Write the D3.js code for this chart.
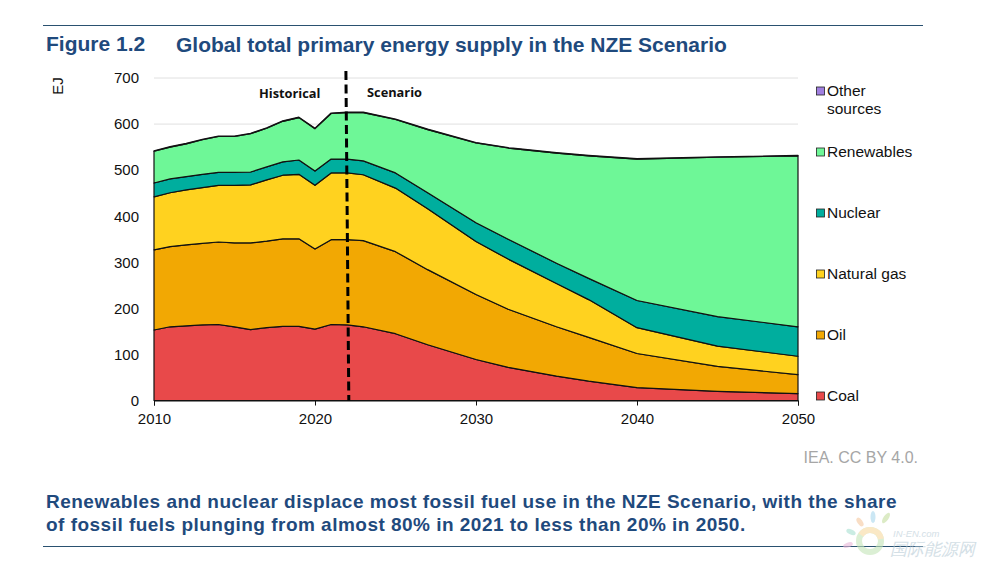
<!DOCTYPE html>
<html>
<head>
<meta charset="utf-8">
<script src="https://cdn.jsdelivr.net/npm/d3@7"></script>
<style>
  html, body { margin: 0; padding: 0; background: #fff; }
  svg { display: block; }
  text { font-family: "Liberation Sans", Arial, sans-serif; }
  .axis text { font-size: 15px; fill: #111; }
  .heading { font-size: 21px; font-weight: 700; fill: #1f4a7d; }
  .caption { font-size: 19px; font-weight: 700; fill: #1f4a7d; letter-spacing: 0.48px; }
  .period { font-family: "Open Sans", sans-serif; font-size: 12.8px; font-weight: 700; fill: #111; }
</style>
</head>
<body>
<svg id="chart" width="981" height="562"></svg>
<script>
const years = [2010, 2011, 2012, 2013, 2014, 2015, 2016, 2017, 2018, 2019, 2020, 2021, 2022, 2023, 2025, 2027, 2030, 2032, 2035, 2037, 2040, 2045, 2050];
const coal = [153, 160, 162, 164, 165, 160, 154, 158, 161, 161, 155, 165, 164, 160, 145, 121, 89, 72, 53, 42, 28, 20, 15];
const oil = [174, 174, 176, 177, 179, 182, 188, 188, 190, 190, 174, 184, 185, 187, 178, 163, 141, 126, 107, 95, 74, 54, 41];
const gas = [115, 117, 119, 121, 123, 125, 126, 133, 138, 140, 138, 145, 145, 143, 138, 132, 115, 109, 94, 82, 56, 44, 40];
const nuclear = [30, 30, 29, 29, 28, 28, 28, 28, 29, 31, 31, 30, 30, 30, 33, 35, 41, 43, 44, 46, 59, 64, 64];
const renewables = [69, 69, 71, 75, 78, 78, 83, 84, 88, 92, 92, 99, 101, 105, 116, 137, 173, 198, 239, 266, 307, 346, 371];
const otherSources = [1, 1, 1, 1, 1, 1, 1, 1, 1, 1, 1, 1, 1, 1, 1, 1, 1, 1, 1, 1, 1, 1, 1];

const seriesKeys = ['Coal', 'Oil', 'Natural gas', 'Nuclear', 'Renewables', 'Other sources'];
const seriesValues = [coal, oil, gas, nuclear, renewables, otherSources];
const seriesColors = ['#e8494a', '#f2a803', '#ffd21f', '#00ae9e', '#6ef797', '#a07fe0'];
const legendRows = [
  { key: 'Other sources', lines: ['Other', 'sources'], y: 91 },
  { key: 'Renewables', lines: ['Renewables'], y: 152 },
  { key: 'Nuclear', lines: ['Nuclear'], y: 213 },
  { key: 'Natural gas', lines: ['Natural gas'], y: 274 },
  { key: 'Oil', lines: ['Oil'], y: 335 },
  { key: 'Coal', lines: ['Coal'], y: 396 }
];
const yTicks = [0, 100, 200, 300, 400, 500, 600, 700];
const xTicks = [2010, 2020, 2030, 2040, 2050];
const dividerYears = [2021.92, 2022.1];

const svg = d3.select('#chart');
const x = d3.scaleLinear().domain([2010, 2050]).range([154, 798]);
const y = d3.scaleLinear().domain([0, 700]).range([400.5, 78]);

const table = years.map((year, i) => {
  const row = { year };
  seriesKeys.forEach((key, k) => { row[key] = seriesValues[k][i]; });
  return row;
});
const stacked = d3.stack().keys(seriesKeys)(table);
const color = d3.scaleOrdinal().domain(seriesKeys).range(seriesColors);

// rules and headings
svg.append('line').attr('x1', 43).attr('x2', 923).attr('y1', 25.5).attr('y2', 25.5)
  .attr('stroke', '#2a5170').attr('stroke-width', 1);
svg.append('line').attr('x1', 43).attr('x2', 923).attr('y1', 546.5).attr('y2', 546.5)
  .attr('stroke', '#2a5170').attr('stroke-width', 1);
svg.append('text').attr('class', 'heading').attr('x', 46).attr('y', 51).text('Figure 1.2');
svg.append('text').attr('class', 'heading').attr('x', 176).attr('y', 52)
  .text('Global total primary energy supply in the NZE Scenario');

// gridlines
svg.append('g').selectAll('line')
  .data(yTicks.filter(d => d > 0))
  .join('line')
  .attr('x1', x(2010)).attr('x2', x(2050))
  .attr('y1', d => y(d)).attr('y2', d => y(d))
  .attr('stroke', '#e0e0e0').attr('stroke-width', 1);

// stacked areas
const area = d3.area()
  .x(d => x(d.data.year))
  .y0(d => y(d[0]))
  .y1(d => y(d[1]));
svg.append('g').selectAll('path')
  .data(stacked)
  .join('path')
  .attr('d', area)
  .attr('fill', d => color(d.key))
  .attr('stroke', '#111')
  .attr('stroke-width', 1.2)
  .attr('stroke-linejoin', 'round');

// axes
const xAxis = svg.append('g').attr('class', 'axis').attr('transform', `translate(0,${y(0)})`)
  .call(d3.axisBottom(x).tickValues(xTicks).tickFormat(d3.format('d')).tickSize(5).tickPadding(8));
xAxis.select('.domain').attr('stroke', '#111');
xAxis.selectAll('line').attr('stroke', '#111');

const yAxis = svg.append('g').attr('class', 'axis').attr('transform', 'translate(139,0)')
  .call(d3.axisLeft(y).tickValues(yTicks).tickSize(0).tickPadding(0));
yAxis.select('.domain').remove();

svg.append('text').attr('transform', 'translate(63,86) rotate(-90)')
  .attr('text-anchor', 'middle').attr('font-size', 15).attr('fill', '#111').text('EJ');

// historical / scenario divider
svg.append('line')
  .attr('x1', x(dividerYears[0])).attr('x2', x(dividerYears[1]))
  .attr('y1', 71).attr('y2', y(0))
  .attr('stroke', '#000').attr('stroke-width', 3).attr('stroke-dasharray', '9 4.5');
svg.append('text').attr('class', 'period').attr('x', 259).attr('y', 98).text('Historical');
svg.append('text').attr('class', 'period').attr('x', 367).attr('y', 97).text('Scenario');

// legend
const legend = svg.append('g').selectAll('g')
  .data(legendRows)
  .join('g')
  .attr('transform', d => `translate(816,${d.y})`);
legend.append('rect')
  .attr('x', 0.5).attr('y', -4).attr('width', 8).attr('height', 8)
  .attr('fill', d => color(d.key)).attr('stroke', '#222').attr('stroke-width', 0.8);
legend.append('text')
  .attr('font-size', 15.5).attr('fill', '#111')
  .selectAll('tspan')
  .data(d => d.lines)
  .join('tspan')
  .attr('x', 11).attr('y', (d, i) => 5 + i * 18)
  .text(d => d);

svg.append('text').attr('x', 918).attr('y', 463).attr('text-anchor', 'end')
  .attr('font-size', 16).attr('fill', '#a6a6a6').text('IEA. CC BY 4.0.');

svg.append('text').attr('class', 'caption').attr('x', 46).attr('y', 508)
  .text('Renewables and nuclear displace most fossil fuel use in the NZE Scenario, with the share');
svg.append('text').attr('class', 'caption').attr('x', 46).attr('y', 531)
  .text('of fossil fuels plunging from almost 80% in 2021 to less than 20% in 2050.');

// watermark
const mark = svg.append('g').attr('opacity', 0.6);
function petal(cx, cy, rx, ry, angle, fill) {
  mark.append('ellipse').attr('cx', cx).attr('cy', cy).attr('rx', rx).attr('ry', ry)
    .attr('transform', `rotate(${angle} ${cx} ${cy})`).attr('fill', fill);
}
petal(860, 522, 2.5, 5, -35, '#f6c9a0');
petal(873, 517, 2.5, 6, 0, '#a9d8ee');
petal(886, 518, 2.5, 6, 35, '#c5dfa0');
petal(851, 532, 2.5, 5, -65, '#a8e0d2');
petal(848, 545, 2.5, 5, 70, '#e8b7d8');
mark.append('circle').attr('cx', 870).attr('cy', 541).attr('r', 11)
  .attr('fill', 'none').attr('stroke', '#c4e6b8').attr('stroke-width', 6);
mark.append('path').attr('d', 'M861 535 A11 11 0 0 1 881 539')
  .attr('fill', 'none').attr('stroke', '#f8d9a0').attr('stroke-width', 6);
mark.append('text').attr('x', 893).attr('y', 537).attr('font-size', 9.5).attr('font-style', 'italic')
  .attr('fill', '#b7cbd6').text('IN-EN.com');
mark.append('text').attr('x', 890).attr('y', 555).attr('font-size', 17).attr('font-style', 'italic')
  .attr('font-family', '"Noto Sans CJK SC"').attr('fill', '#b7cbd6').text('国际能源网');
</script>
</body>
</html>
